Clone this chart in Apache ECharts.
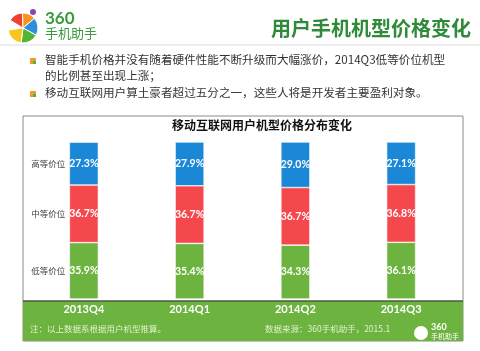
<!DOCTYPE html>
<html>
<head>
<meta charset="utf-8">
<script src="https://cdn.jsdelivr.net/npm/echarts@6/dist/echarts.min.js"></script>
<style>
  html, body {margin:0; padding:0; background:#fff;}
  #main {width:480px; height:351px;}
</style>
</head>
<body>
<div id="main"></div>
<script>
// 数据
var quarters = ['2013Q4', '2014Q1', '2014Q2', '2014Q3'];
var seriesNames = ['低等价位', '中等价位', '高等价位'];
var lowValues = [35.9, 35.4, 34.3, 36.1];
var midValues = [36.7, 36.7, 36.7, 36.8];
var highValues = [27.3, 27.9, 29.0, 27.1];
var seriesColors = ['#6db33f', '#f5484d', '#1b87d7'];

var cjk = '"Noto Sans CJK SC", "Noto Sans", sans-serif';
var num = 'Lato, "Open Sans", sans-serif';
var myChart = echarts.init(document.getElementById('main'));

//第一根柱子左侧带名称的标签
function buildData(values, name){
    return values.map(function (v, i){
        if(i !== 0){
            return v;
        }
        return {
            value: v,
            label: {
                formatter: '{n|' + name + '}{v|' + v.toFixed(1) + '%}',
                offset: [-19, 0]
            }
        };
    });
}

function makeSeries(values, idx){
    return {
        name: seriesNames[idx],
        type: 'bar',
        stack: 'total',
        barWidth: 29,
        itemStyle: {color: seriesColors[idx], borderColor: '#fff', borderWidth: 0.6},
        label: {
            show: true,
            position: 'inside',
            color: '#fff',
            fontWeight: 'bold',
            fontSize: 10.5,
            fontFamily: num,
            formatter: function (p){ return p.value.toFixed(1) + '%'; },
            rich: {
                n: {color: '#444', fontSize: 8.5, fontWeight: 'normal', fontFamily: cjk, padding: [0, 4, 0, 0]},
                v: {color: '#fff', fontSize: 10.5, fontWeight: 'bold', fontFamily: num}
            }
        },
        data: buildData(values, seriesNames[idx])
    };
}

//左上角logo
var logoParts = [
    {s: -2.6, e: -1.6, c: '#f0402f'},
    {s: -1.6, e: -0.7, c: '#f7931e'},
    {s: -0.7, e: 0.5, c: '#2e8fd8'},
    {s: 0.5, e: 1.7, c: '#55b432'},
    {s: 1.7, e: 3.0, c: '#f8c51c'}
];
var graphics = [];
logoParts.forEach(function (p){
    graphics.push({
        type: 'sector', silent: true,
        shape: {cx: 23, cy: 28, r: 15, r0: 0, startAngle: p.s, endAngle: p.e},
        style: {fill: p.c, stroke: '#fff', lineWidth: 1}
    });
});
graphics.push(
    {type: 'circle', shape: {cx: 33, cy: 12, r: 3}, style: {fill: '#8e44ad'}},
    {type: 'text', left: 45, top: 10, style: {text: '360', fill: '#3b9a3b', font: 'bold 17px Lato, sans-serif'}},
    {type: 'text', left: 45, top: 27, style: {text: '手机助手', fill: '#3b9a3b', font: '13px ' + cjk}},
    {type: 'text', right: 9, top: 18, style: {text: '用户手机机型价格变化', fill: '#2f8a3a', font: 'bold 20px ' + cjk}},
    {type: 'line', shape: {x1: 0, y1: 45, x2: 480, y2: 45}, style: {stroke: '#dcdcdc', lineWidth: 1}},
    //列表
    {type: 'rect', shape: {x: 30, y: 58, width: 6, height: 6}, style: {fill: '#f39c2c'}},
    {type: 'rect', shape: {x: 30, y: 91, width: 6, height: 6}, style: {fill: '#f39c2c'}},
    {type: 'rect', shape: {x: 33, y: 61, width: 3, height: 3}, style: {fill: '#4caf50'}},
    {type: 'rect', shape: {x: 33, y: 94, width: 3, height: 3}, style: {fill: '#4caf50'}},
    {type: 'text', left: 45, top: 54, style: {text: '智能手机价格并没有随着硬件性能不断升级而大幅涨价，2014Q3低等价位机型', fill: '#333', font: '11.6px ' + cjk}},
    {type: 'text', left: 45, top: 70, style: {text: '的比例甚至出现上涨；', fill: '#333', font: '11.6px ' + cjk}},
    {type: 'text', left: 45, top: 87, style: {text: '移动互联网用户算土豪者超过五分之一，这些人将是开发者主要盈利对象。', fill: '#333', font: '11.6px ' + cjk}},
    //图表外框
    {type: 'rect', z: -10, shape: {x: 23, y: 116, width: 440, height: 225}, style: {fill: '#fff', stroke: '#8a8a8a', lineWidth: 1}},
    {type: 'text', left: 172, top: 119, style: {text: '移动互联网用户机型价格分布变化', fill: '#111', font: 'bold 12px ' + cjk}},
    //底部绿色条
    {type: 'rect', z: -5, shape: {x: 23, y: 301, width: 440, height: 40}, style: {fill: '#6db33f'}},
    {type: 'line', z: -4, shape: {x1: 23, y1: 301, x2: 463, y2: 301}, style: {stroke: '#4a5a40', lineWidth: 1.5}},
    {type: 'text', left: 30, top: 325, style: {text: '注：以上数据系根据用户机型推算。', fill: '#dff0cf', font: '8.5px ' + cjk}},
    {type: 'text', left: 265, top: 325, style: {text: '数据来源：360手机助手，2015.1', fill: '#dff0cf', font: '8.5px ' + cjk}},
    {type: 'circle', shape: {cx: 421, cy: 333, r: 7}, style: {fill: '#fff'}},
    {type: 'text', left: 431, top: 323, style: {text: '360', fill: '#fff', font: 'bold 9px Lato, sans-serif'}},
    {type: 'text', left: 431, top: 333, style: {text: '手机助手', fill: '#fff', font: '7px ' + cjk}}
);

var option = {
    animation: false,
    backgroundColor: '#fff',
    grid: {left: 31, right: 26, top: 142, bottom: 52},
    xAxis: {
        type: 'category',
        data: quarters,
        axisLine: {show: false},
        axisTick: {show: false},
        axisLabel: {color: '#fff', fontWeight: 'bold', fontSize: 11, fontFamily: num, margin: 5}
    },
    yAxis: {
        type: 'value',
        min: 0,
        max: 100,
        show: false,
        splitLine: {show: false}
    },
    graphic: graphics,
    series: [
        makeSeries(lowValues, 0),
        makeSeries(midValues, 1),
        makeSeries(highValues, 2)
    ]
};
myChart.setOption(option);
</script>
</body>
</html>
